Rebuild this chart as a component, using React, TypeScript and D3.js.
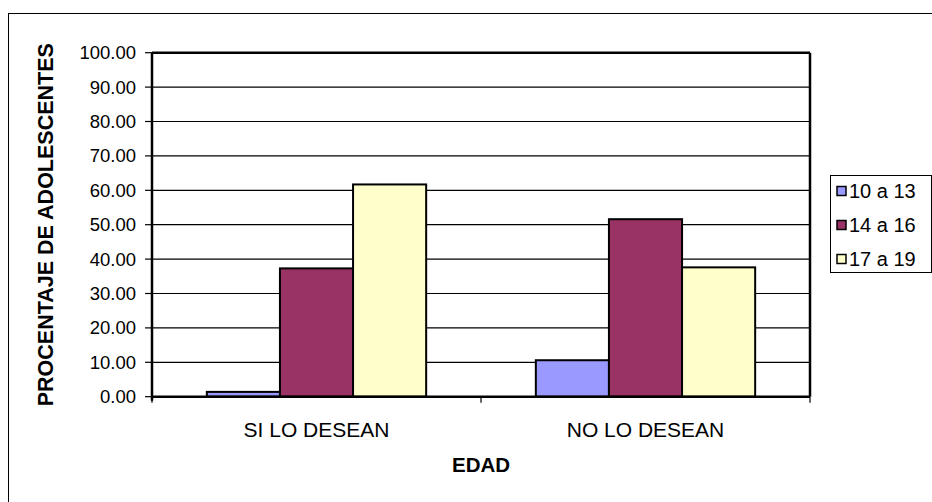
import React from "react";
import * as d3 from "d3";

const categories = ["SI LO DESEAN", "NO LO DESEAN"];
const seriesNames = ["10 a 13", "14 a 16", "17 a 19"];
const s1013 = [1.4, 10.6];
const s1416 = [37.3, 51.6];
const s1719 = [61.7, 37.6];
const yTicks = [0, 10, 20, 30, 40, 50, 60, 70, 80, 90, 100];
const colors = ["#9999FF", "#993366", "#FFFFCC"];

export default function App() {
  const W = 932, H = 502;
  const left = 152, right = 810, top = 52.7, bottom = 396.7;
  const x0 = d3.scaleBand<string>().domain(categories).range([left, right]).padding(0);
  const bw = x0.bandwidth();
  const x1 = d3.scaleBand<string>().domain(seriesNames).range([bw / 6, (bw * 5) / 6]).padding(0);
  const y = d3.scaleLinear().domain([0, 100]).range([bottom, top]);
  const series = [s1013, s1416, s1719];
  const font = "Arial, 'Liberation Sans', sans-serif";

  return (
    <svg width={W} height={H} style={{ position: "absolute", left: 0, top: 0, background: "#fff" }} fontFamily={font}>
      <rect x={8.5} y={13.5} width={1000} height={1000} fill="#fff" stroke="#000" strokeWidth={1} />
      {/* gridlines */}
      {yTicks.map((t) => (
        <line key={"g" + t} x1={left} x2={right} y1={y(t)} y2={y(t)} stroke="#000" strokeWidth={1.2} />
      ))}
      {/* y tick marks and labels */}
      {yTicks.map((t) => (
        <g key={"t" + t}>
          <line x1={left - 7} x2={left} y1={y(t)} y2={y(t)} stroke="#000" strokeWidth={1.2} />
          <text x={136} y={y(t)} dy="0.35em" textAnchor="end" fontSize={18.5} fill="#000">
            {t.toFixed(2)}
          </text>
        </g>
      ))}
      {/* bars */}
      {categories.map((c, ci) =>
        seriesNames.map((s, si) => (
          <rect
            key={c + s}
            x={(x0(c) as number) + (x1(s) as number)}
            y={y(series[si][ci])}
            width={x1.bandwidth()}
            height={bottom - y(series[si][ci])}
            fill={colors[si]}
            stroke="#000"
            strokeWidth={2}
          />
        ))
      )}
      {/* plot border */}
      <line x1={left} x2={right} y1={top} y2={top} stroke="#000" strokeWidth={2.5} />
      <line x1={right} x2={right} y1={top} y2={bottom} stroke="#000" strokeWidth={2.5} />
      <line x1={left} x2={left} y1={top} y2={bottom + 4} stroke="#000" strokeWidth={2.5} />
      <line x1={left} x2={right} y1={bottom} y2={bottom} stroke="#000" strokeWidth={2.5} />
      {/* category ticks */}
      {[...categories.map((c) => x0(c) as number), right].map((v, i) => (
        <line key={"ct" + i} x1={v} x2={v} y1={bottom} y2={bottom + 6} stroke="#000" strokeWidth={1.2} />
      ))}
      {/* category labels */}
      {categories.map((c) => (
        <text key={"cl" + c} x={(x0(c) as number) + bw / 2} y={437} textAnchor="middle" fontSize={21} fill="#000">
          {c}
        </text>
      ))}
      {/* axis titles */}
      <text x={481} y={472} textAnchor="middle" fontSize={20.5} fontWeight="bold" fill="#000">
        EDAD
      </text>
      <text
        transform={`translate(53, ${(top + bottom) / 2}) rotate(-90)`}
        textAnchor="middle"
        fontSize={21.5}
        fontWeight="bold"
        fill="#000"
      >
        PROCENTAJE DE ADOLESCENTES
      </text>
      {/* legend */}
      <rect x={830.5} y={175.5} width={101} height={97} fill="#fff" stroke="#000" strokeWidth={1} />
      {seriesNames.map((s, i) => {
        const cy = 191 + i * 34;
        return (
          <g key={"lg" + s}>
            <rect x={837} y={cy - 4.5} width={9} height={9} fill={colors[i]} stroke="#000" strokeWidth={1.5} />
            <text x={849} y={cy} dy="0.35em" fontSize={20} fill="#000">
              {s}
            </text>
          </g>
        );
      })}
    </svg>
  );
}
